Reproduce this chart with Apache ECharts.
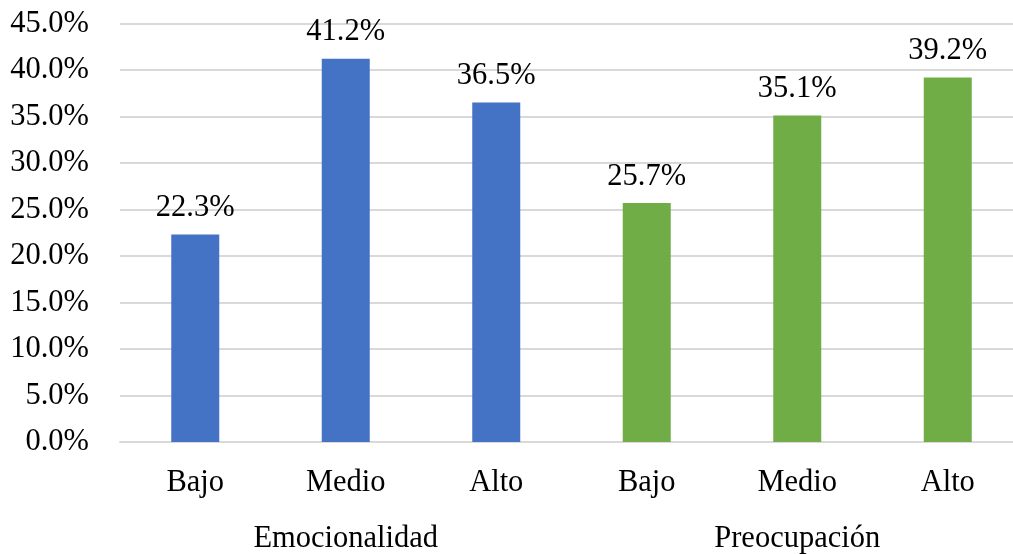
<!DOCTYPE html>
<html>
<head>
<meta charset="utf-8">
<script src="https://cdn.jsdelivr.net/npm/echarts@6/dist/echarts.min.js"></script>
<style>
html,body{margin:0;padding:0;background:#fff;overflow:hidden;width:1013px;height:554px;}
#chart{width:1023px;height:554px;}
</style>
</head>
<body>
<div id="chart"></div>
<script>
const categories = ['Bajo','Medio','Alto','Bajo','Medio','Alto'];
const groups = ['Emocionalidad','Preocupación'];
const values = [22.3, 41.2, 36.5, 25.7, 35.1, 39.2];
const groupOfCategory = [0, 0, 0, 1, 1, 1];
const groupColors = ['#4472C4', '#70AD47'];
const yTicks = [0, 5, 10, 15, 20, 25, 30, 35, 40, 45];

const FONT = "'Liberation Serif', 'Times New Roman', serif";
const FS = 30.5;
const chart = echarts.init(document.getElementById('chart'), null, {renderer:'canvas'});
chart.setOption({
  animation: false,
  backgroundColor: '#fff',
  textStyle: {fontFamily: FONT},
  grid: {left: 120, right: 0, top: 23.5, height: 418.5, containLabel: false},
  xAxis: [
    {
      type: 'category',
      data: categories,
      position: 'bottom',
      axisLine: {show: true, lineStyle: {color: '#D9D9D9', width: 2}},
      axisTick: {show: false},
      axisLabel: {color: '#000', fontFamily: FONT, fontSize: FS, margin: 25, interval: 0}
    },
    {
      type: 'category',
      data: groups,
      position: 'bottom',
      offset: 56,
      axisLine: {show: false},
      axisTick: {show: false},
      axisLabel: {color: '#000', fontFamily: FONT, fontSize: FS, margin: 25, interval: 0}
    }
  ],
  yAxis: {
    type: 'value',
    min: yTicks[0],
    max: yTicks[yTicks.length - 1],
    interval: yTicks[1] - yTicks[0],
    axisLine: {show: false},
    axisTick: {show: false},
    splitLine: {show: true, lineStyle: {color: '#D9D9D9', width: 2}},
    axisLabel: {color: '#000', fontFamily: FONT, fontSize: FS, margin: 31,
      formatter: v => v.toFixed(1) + '%'}
  },
  series: [{
    type: 'bar',
    xAxisIndex: 0,
    barWidth: 48,
    data: values.map((v, i) => ({value: v, itemStyle: {color: groupColors[groupOfCategory[i]]}})),
    label: {
      show: true, position: 'top', distance: 11,
      color: '#000', fontFamily: FONT, fontSize: FS,
      formatter: p => p.value.toFixed(1) + '%'
    }
  }]
});
</script>
</body>
</html>
